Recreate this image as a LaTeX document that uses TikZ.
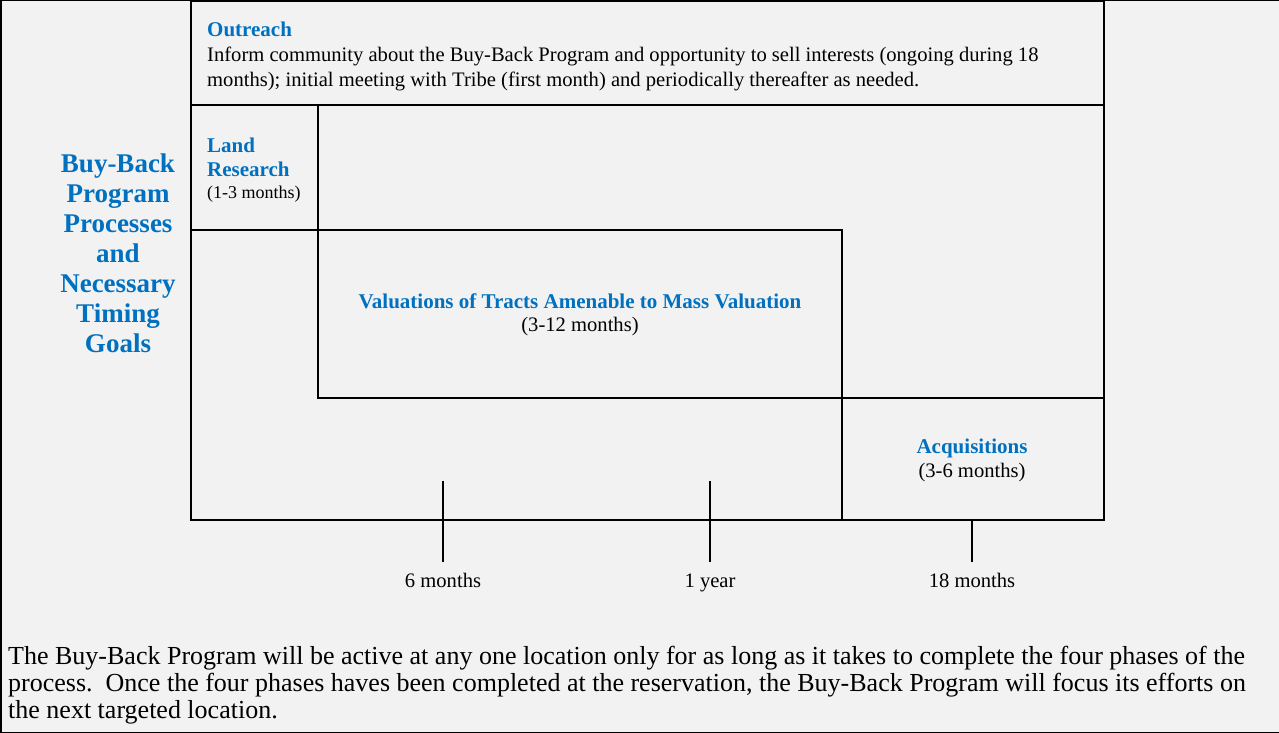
\documentclass[tikz,border=0pt]{standalone}
\usepackage{fontspec}
\setmainfont{Liberation Serif}
\usepackage{xcolor}
\usetikzlibrary{positioning}

\definecolor{progblue}{HTML}{0070C0}
\definecolor{panelgray}{HTML}{F2F2F2}

\begin{document}
\begin{tikzpicture}[x=1pt,y=-1pt,
                    box/.style={draw=black,line width=2pt},
                    thinbox/.style={draw=black,line width=1.2pt},
                    tick/.style={draw=black,line width=1.5pt},
                    head/.style={font=\fontsize{21}{24}\selectfont\bfseries,
                                 text=progblue,inner sep=0pt},
                    body/.style={font=\fontsize{20.6}{25}\selectfont,inner sep=0pt},
                    note/.style={font=\fontsize{26}{27}\selectfont,inner sep=0pt,
                                 anchor=base west}]

\fill[panelgray] (0,0) rectangle (1279,733);
\useasboundingbox (0,0) rectangle (1279,733);
\draw[line width=1.5pt] (1279,0.75) -- (0.75,0.75) -- (0.75,732.25) -- (1279,732.25);

% phase boxes
\draw[box] (191,1) rectangle (1104,520);
\draw[box] (191,105) -- (1104,105);
\draw[box] (318,105) -- (318,398) -- (1104,398);
\draw[box] (191,230) -- (842,230) -- (842,398);
\draw[thinbox] (842,398) -- (842,520);

% title
\node[font=\fontsize{27}{30}\selectfont\bfseries,text=progblue,
      align=center,inner sep=0pt] (title) at(118,253)
      {Buy-Back\\Program\\Processes\\and\\Necessary\\Timing\\Goals};

% outreach
\node[head,anchor=base west] (outreach) at(207,37) {Outreach};
\node[body,anchor=base west] (outr1) at(207,62)
      {Inform community about the Buy-Back Program and opportunity to sell interests (ongoing during 18};
\node[body,anchor=base west] (outr2) at(207,87)
      {months); initial meeting with Tribe (first month) and periodically thereafter as needed.};

% land research
\node[head,anchor=base west] (land1) at(207,152) {Land};
\node[head,anchor=base west] (land2) at(207,176) {Research};
\node[body,anchor=base west,font=\fontsize{18}{20}\selectfont] (landtime) at(207,198) {(1-3 months)};

% valuations
\node[head,anchor=base] (valuation) at(580,308) {Valuations of Tracts Amenable to Mass Valuation};
\node[body,anchor=base] (valtime) at(580,331) {(3-12 months)};

% acquisitions
\node[head,anchor=base] (acquis) at(972,453) {Acquisitions};
\node[body,anchor=base] (acqtime) at(972,477) {(3-6 months)};

% time scale
\coordinate (T6) at(443,481);
\coordinate (T12) at(710,481);
\coordinate (T18) at(972,520);
\coordinate (E6) at(443,562);
\coordinate (E12) at(710,562);
\coordinate (E18) at(972,562);
\path[tick] (T6) -- (E6) (T12) -- (E12) (T18) -- (E18);

\node[body,anchor=base] (L6) at(443,587) {6 months};
\node[body,anchor=base] (L12) at(710,587) {1 year};
\node[body,anchor=base] (L18) at(972,587) {18 months};

% closing note
\node[note] (note1) at(8,664)
      {The Buy-Back Program will be active at any one location only for as long as it takes to complete the four phases of the};
\node[note] (note2) at(8,691)
      {process.\ \ Once the four phases haves been completed at the reservation, the Buy-Back Program will focus its efforts on};
\node[note] (note3) at(8,718) {the next targeted location.};
\end{tikzpicture}
\end{document}
